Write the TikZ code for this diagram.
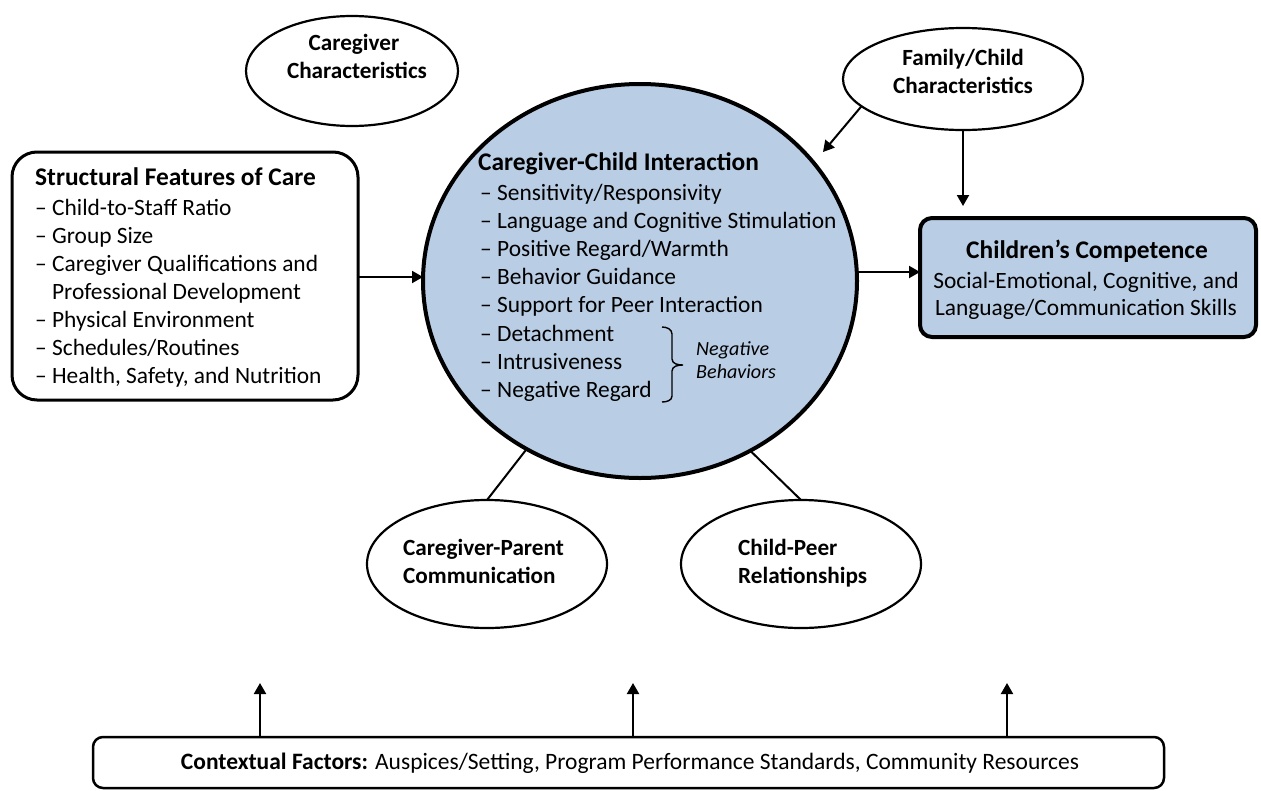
\documentclass[tikz,border=0pt]{standalone}
\usepackage{fontspec}
\setmainfont{Carlito}
\usetikzlibrary{arrows.meta,shapes.geometric}
\definecolor{cblue}{HTML}{B9CDE5}
\begin{document}
\begin{tikzpicture}[x=1pt,y=-1pt,
  conn/.style={line width=2pt},
  arr/.style={line width=2pt,-{Triangle[length=11pt,width=12pt]}},
  oval/.style={ellipse,draw,line width=2.2pt,inner sep=0pt,outer sep=0pt},
  box/.style={draw,inner sep=0pt,outer sep=0pt},
  itm/.style={inner sep=0pt,anchor=base west,font=\fontsize{23.4}{28}\selectfont},
  ttl/.style={inner sep=0pt,anchor=base west,font=\fontsize{25.4}{30}\selectfont\bfseries},
  ovt/.style={inner sep=0pt,anchor=base west,font=\fontsize{23.2}{28}\selectfont\bfseries},
  ovc/.style={inner sep=0pt,anchor=base,font=\fontsize{23.2}{28}\selectfont\bfseries},
  neg/.style={inner sep=0pt,anchor=base west,font=\fontsize{20.1}{24}\selectfont\itshape},
]
\useasboundingbox (0,0) rectangle (1261,790);

% shapes
\node[oval, minimum width=212pt, minimum height=110pt] (cc) at (352,71) {};
\node[oval, minimum width=240pt, minimum height=102pt] (fc) at (963,79) {};
\node[oval, fill=cblue, line width=4pt, minimum width=434pt, minimum height=394pt] (ci) at (640,281) {};
\node[oval, minimum width=240pt, minimum height=128pt] (cp) at (487,564) {};
\node[oval, minimum width=240pt, minimum height=128pt] (pr) at (801,564) {};
\node[box, rounded corners=25pt, line width=3pt, minimum width=346pt, minimum height=248pt] (sf) at (185,276) {};
\node[box, fill=cblue, rounded corners=12pt, line width=4pt, minimum width=336pt, minimum height=119pt] (comp) at (1088,277.5) {};
\node[box, rounded corners=10pt, line width=2.5pt, minimum width=1071pt, minimum height=51pt] (ctx) at (628.5,762.5) {};

% texts: caregiver characteristics
\node[ovc] (cc1) at (354,50) {Caregiver};
\node[ovc] (cc2) at (357,78) {Characteristics};
% family/child
\node[ovc] (fc1) at (963,65) {Family/Child};
\node[ovc] (fc2) at (963,93) {Characteristics};
% caregiver-parent
\node[ovt] (cp1) at (403,555) {Caregiver-Parent};
\node[ovt] (cp2) at (403,583) {Communication};
% child-peer
\node[ovt] (pr1) at (738,555) {Child-Peer};
\node[ovt] (pr2) at (738,583) {Relationships};

% structural features
\node[ttl] (sf0) at (35,185) {Structural Features of Care};
\node[itm] (sf1) at (35,215) {– Child-to-Staff Ratio};
\node[itm] (sf2) at (35,243) {– Group Size};
\node[itm] (sf3) at (35,271) {– Caregiver Qualifications and};
\node[itm] (sf4) at (35,299) {\phantom{– }Professional Development};
\node[itm] (sf5) at (35,327) {– Physical Environment};
\node[itm] (sf6) at (35,355) {– Schedules/Routines};
\node[itm] (sf7) at (35,383) {– Health, Safety, and Nutrition};

% caregiver-child interaction
\node[ttl] (ci0) at (478,170) {Caregiver-Child Interaction};
\node[itm] (ci1) at (480,200) {– Sensitivity/Responsivity};
\node[itm] (ci2) at (480,228) {– Language and Cognitive Stimulation};
\node[itm] (ci3) at (480,256) {– Positive Regard/Warmth};
\node[itm] (ci4) at (480,284) {– Behavior Guidance};
\node[itm] (ci5) at (480,312) {– Support for Peer Interaction};
\node[itm] (ci6) at (480,341) {– Detachment};
\node[itm] (ci7) at (480,369) {– Intrusiveness};
\node[itm] (ci8) at (480,397) {– Negative Regard};
\draw[line width=1.4pt] (662,327) to[out=0,in=90] (672,334) -- (672,359) to[out=-90,in=180] (683,365) to[out=180,in=90] (672,371) -- (672,396) to[out=-90,in=0] (662,402);
\node[neg] (nb1) at (696,355) {Negative};
\node[neg] (nb2) at (696,378) {Behaviors};

% children's competence
\node[inner sep=0pt,anchor=base,font=\fontsize{25.4}{30}\selectfont\bfseries] (cm0) at (1087,258) {Children’s Competence};
\node[inner sep=0pt,anchor=base,font=\fontsize{23.4}{28}\selectfont] (cm1) at (1086,288) {Social-Emotional, Cognitive, and};
\node[inner sep=0pt,anchor=base,font=\fontsize{23.4}{28}\selectfont] (cm2) at (1086,315) {Language/Communication Skills};

% contextual
\node[inner sep=0pt,anchor=base,font=\fontsize{23.5}{28}\selectfont] (ctxt) at (630,769) {\textbf{Contextual Factors:} Auspices/Setting, Program Performance Standards, Community Resources};

% connectors
\coordinate (c0) at ([yshift=-1pt]sf.east);
\draw[arr] (c0) -- (c0 -| ci.west);
\coordinate (c1) at ([yshift=5.5pt]comp.west);
\draw[arr] (ci.east |- c1) -- (c1);
\coordinate (fcEnd) at (823,152);
\draw[arr] (fc.195) -- (fcEnd);
\draw[arr, shorten >=12pt] (fc.south) -- (fc.south |- comp.north);
\draw[conn] (ci.236) -- (cp.north);
\draw[conn] (ci.303.5) -- (pr.north);
\coordinate (u1) at (260,683);
\coordinate (u2) at (633,683);
\coordinate (u3) at (1007,683);
\draw[arr] (u1 |- ctx.north) -- (u1);
\draw[arr] (u2 |- ctx.north) -- (u2);
\draw[arr] (u3 |- ctx.north) -- (u3);
\end{tikzpicture}
\end{document}
